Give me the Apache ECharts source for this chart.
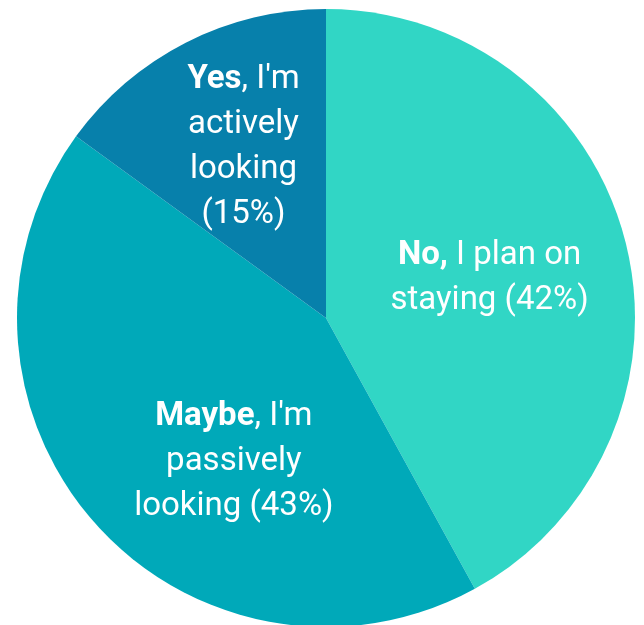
<!DOCTYPE html>
<html>
<head>
<meta charset="utf-8">
<script src="https://cdn.jsdelivr.net/npm/echarts@6/dist/echarts.min.js"></script>
<style>
html,body{margin:0;padding:0;background:#fff;}
#c{width:644px;height:625px;}
</style>
</head>
<body>
<div id="c"></div>
<script>
const categories = ['No', 'Maybe', 'Yes'];
const boldParts = ['No,', 'Maybe', 'Yes'];
const restParts = [' I plan on\nstaying ', ', I\'m\npassively\nlooking ', ', I\'m\nactively\nlooking\n'];
const values = [42, 43, 15];
const colors = ['#31d6c5', '#00a9b9', '#0780ab'];
const labelOffsets = [[11, -1], [26, 40], [-11, -30]];

const data = categories.map((c, i) => ({
  name: c,
  value: values[i],
  itemStyle: { color: colors[i] },
  label: {
    offset: labelOffsets[i],
    formatter: '{b|' + boldParts[i] + '}{n|' + (restParts[i] + '(' + values[i] + '%)').replace(/\n/g, '}\n{n|') + '}'
  }
}));

const chart = echarts.init(document.getElementById('c'), null, { renderer: 'canvas' });
chart.setOption({
  animation: false,
  series: [{
    type: 'pie',
    center: [326, 318],
    radius: [0, 309],
    startAngle: 90,
    clockwise: true,
    silent: true,
    emphasis: { disabled: true },
    itemStyle: { borderWidth: 0 },
    labelLine: { show: false },
    label: {
      show: true,
      position: 'inside',
      color: '#fff',
      fontFamily: 'Roboto',
      fontSize: 33,
      lineHeight: 45,
      align: 'center',
      rich: {
        b: { fontFamily: 'Roboto', fontSize: 33, fontWeight: 'bold', color: '#fff', lineHeight: 45 },
        n: { fontFamily: 'Roboto', fontSize: 33, color: '#fff', lineHeight: 45 }
      }
    },
    data: data
  }]
});
</script>
</body>
</html>
